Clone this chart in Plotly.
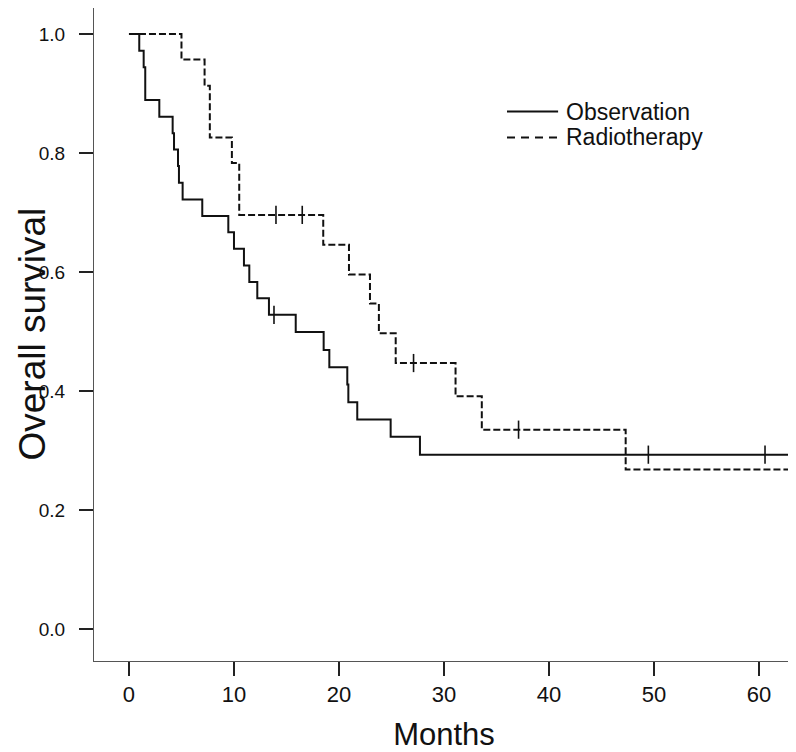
import plotly.graph_objects as go

# ---- data ----
obs_times = [0, 0.98, 1.40, 1.55, 2.89, 4.16, 4.29, 4.67, 4.76, 5.11, 6.98, 9.46, 10.0,
             10.95, 11.46, 12.22, 13.33, 15.88, 18.54, 19.08, 20.79, 20.89, 21.74, 24.92, 27.71]
obs_surv = [1.0, 0.972, 0.944, 0.889, 0.861, 0.833, 0.806, 0.778, 0.750, 0.722, 0.694, 0.667, 0.639,
            0.611, 0.583, 0.556, 0.528, 0.499, 0.469, 0.440, 0.411, 0.381, 0.352, 0.323, 0.293]
obs_cens_t = [13.81, 49.46, 60.57]
obs_cens_s = [0.528, 0.293, 0.293]

rad_times = [0, 5.0, 7.2, 7.7, 9.8, 10.5, 18.5, 20.95, 22.95, 23.8, 25.4, 31.1, 33.6, 47.3]
rad_surv = [1.0, 0.957, 0.913, 0.826, 0.783, 0.696, 0.646, 0.596, 0.547, 0.497, 0.447, 0.391, 0.335, 0.268]
rad_cens_t = [14.0, 16.5, 27.1, 37.1]
rad_cens_s = [0.696, 0.696, 0.447, 0.335]

follow_end = 63.3
x_ticks = [0, 10, 20, 30, 40, 50, 60]
y_ticks = [0.0, 0.2, 0.4, 0.6, 0.8, 1.0]
group_names = ["Observation", "Radiotherapy"]
x_title = "Months"
y_title = "Overall survival"

INK = "#111111"
FONT = "Liberation Sans, Arial, sans-serif"

fig = go.Figure()

def steps(t, s):
    return list(t) + [follow_end], list(s) + [s[-1]]

ox, oy = steps(obs_times, obs_surv)
rx, ry = steps(rad_times, rad_surv)

fig.add_trace(go.Scatter(x=ox, y=oy, mode="lines", line_shape="hv", name=group_names[0],
                         showlegend=False, line=dict(color=INK, width=2)))
fig.add_trace(go.Scatter(x=rx, y=ry, mode="lines", line_shape="hv", name=group_names[1],
                         showlegend=False, line=dict(color=INK, width=2, dash="7px,3px")))
fig.add_trace(go.Scatter(x=obs_cens_t, y=obs_cens_s, mode="markers", showlegend=False,
                         marker=dict(symbol="line-ns", size=13, line=dict(color=INK, width=1.6))))
fig.add_trace(go.Scatter(x=rad_cens_t, y=rad_cens_s, mode="markers", showlegend=False,
                         marker=dict(symbol="line-ns", size=13, line=dict(color=INK, width=1.6))))

# legend drawn as line samples + text (paper coordinates)
leg_rows = [(0.8415, "solid"), (0.8017, "8px,6px")]
for (yp, dash), name in zip(leg_rows, group_names):
    fig.add_shape(type="line", xref="paper", yref="paper", x0=0.59, x1=0.663, y0=yp, y1=yp,
                  line=dict(color=INK, width=2, dash=dash))
    fig.add_annotation(xref="paper", yref="paper", x=0.671, y=yp, xanchor="left", yanchor="middle",
                       text=name, showarrow=False, font=dict(size=23, family=FONT, color=INK))

# y-axis title as rotated text
fig.add_annotation(xref="paper", yref="paper", x=-0.0885, y=0.5, xanchor="center", yanchor="middle",
                   text=y_title, textangle=-90, showarrow=False,
                   font=dict(size=37, family=FONT, color=INK))

fig.update_layout(
    width=788, height=744,
    margin=dict(l=86, r=2, t=0, b=91),
    plot_bgcolor="white", paper_bgcolor="white",
    font=dict(family=FONT, color=INK),
    showlegend=False,
    xaxis=dict(range=[-3.33, 63.33], tickvals=x_ticks, ticks="outside", ticklen=14,
               tickwidth=2, tickcolor="#222222", showline=True, linecolor="#555555", linewidth=1,
               showgrid=False, zeroline=False, automargin=False, ticklabelstandoff=0,
               tickfont=dict(size=22, family=FONT, color=INK),
               title=dict(text=x_title, font=dict(size=31, family=FONT, color=INK), standoff=23)),
    yaxis=dict(range=[-0.0538, 1.0437], tickvals=y_ticks, tickformat=".1f", ticks="outside", ticklen=14,
               tickwidth=2, tickcolor="#222222", showline=True, linecolor="#555555", linewidth=1,
               showgrid=False, zeroline=False, automargin=False, ticklabelstandoff=10,
               tickfont=dict(size=19, family=FONT, color=INK)),
)

fig.write_html("out.html")
